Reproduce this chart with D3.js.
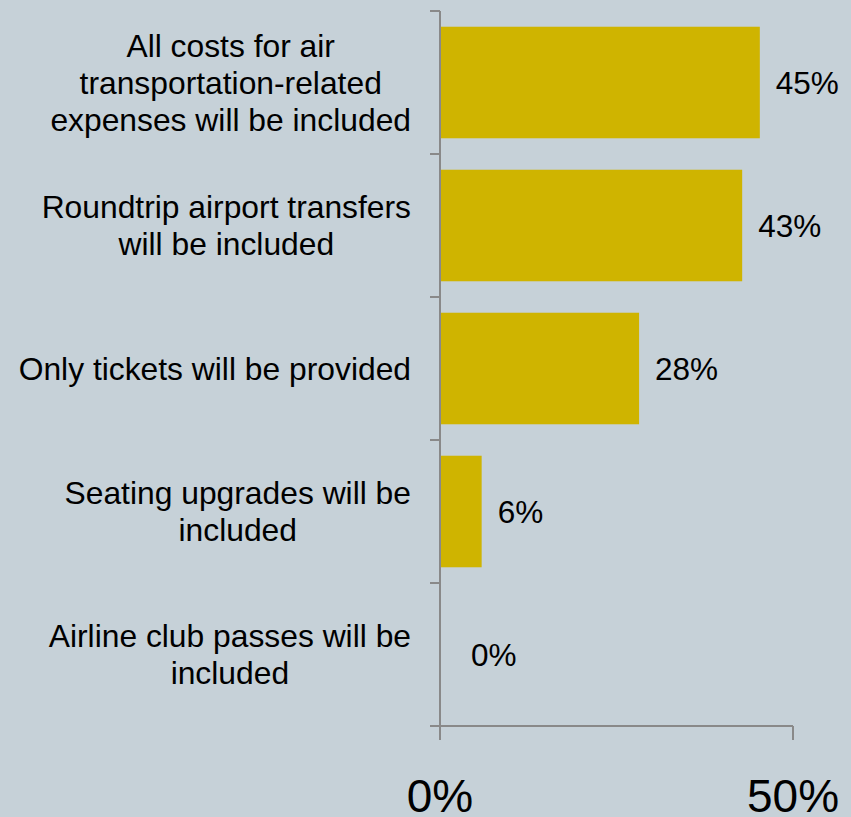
<!DOCTYPE html>
<html>
<head>
<meta charset="utf-8">
<script src="https://cdn.jsdelivr.net/npm/d3@7"></script>
<style>
  html, body { margin: 0; padding: 0; background: #c6d1d8; }
  svg { display: block; font-family: Arial, "Liberation Sans", sans-serif; }
  .axis path, .axis line { stroke: #898989; stroke-width: 2; }
</style>
</head>
<body>
<svg id="chart"></svg>
<script>
// answers, top to bottom
const categories = [
  ['All costs for air', 'transportation-related', 'expenses will be included'],
  ['Roundtrip airport transfers', 'will be included'],
  ['Only tickets will be provided'],
  ['Seating upgrades will be', 'included'],
  ['Airline club passes will be', 'included'],
];
const shares = [0.453, 0.428, 0.282, 0.059, 0];
const xTicks = [0, 0.5];

const width = 851;
const height = 817;
const margin = { top: 11, right: 58, bottom: 91, left: 440 };

const svg = d3.select('#chart')
  .attr('width', width)
  .attr('height', height);

const x = d3.scaleLinear()
  .domain([0, 0.5])
  .range([margin.left, width - margin.right]);

const y = d3.scaleBand()
  .domain(d3.range(categories.length))
  .range([margin.top, height - margin.bottom])
  .paddingInner(0.22)
  .paddingOuter(0.11);

// boundaries between the categories, for the y ticks
const yEdge = d3.scaleLinear()
  .domain([0, categories.length])
  .range([margin.top, height - margin.bottom]);

svg.append('g')
  .selectAll('rect')
  .data(shares)
  .join('rect')
  .attr('x', x(0))
  .attr('y', (d, i) => y(i))
  .attr('width', d => x(d) - x(0))
  .attr('height', y.bandwidth())
  .attr('fill', '#cfb400');

const pct = d3.format('.0%');
svg.append('g')
  .selectAll('text')
  .data(shares)
  .join('text')
  .attr('x', d => Math.max(x(d) + 16, x(0) + 31))
  .attr('y', (d, i) => y(i) + y.bandwidth() / 2)
  .attr('dy', '0.35em')
  .attr('font-size', 31.5)
  .attr('fill', '#000')
  .text(d => pct(d));

// category labels: block right aligned, lines centred inside it
const labelRight = 411;
const lineH = 37;
const labels = svg.append('g');
categories.forEach((lines, i) => {
  const g = labels.append('g');
  const texts = lines.map((line, j) => g.append('text')
    .attr('font-size', 31.8)
    .attr('fill', '#000')
    .attr('text-anchor', 'middle')
    .attr('dy', '0.35em')
    .attr('y', y(i) + y.bandwidth() / 2 + (j - (lines.length - 1) / 2) * lineH)
    .text(line));
  const w = d3.max(texts, t => t.node().getComputedTextLength());
  texts.forEach(t => t.attr('x', labelRight - w / 2));
});

svg.append('g')
  .attr('class', 'axis')
  .attr('transform', `translate(${margin.left},0)`)
  .call(d3.axisLeft(yEdge).ticks(categories.length).tickFormat('').tickSize(10).tickSizeOuter(0).offset(0));

const xAxis = svg.append('g')
  .attr('class', 'axis')
  .attr('transform', `translate(0,${height - margin.bottom})`)
  .call(d3.axisBottom(x).tickValues(xTicks).tickFormat(pct).tickSize(14).tickSizeOuter(0).offset(0));

xAxis.selectAll('text')
  .attr('y', 86)
  .attr('dy', 0)
  .attr('font-size', 46)
  .attr('font-family', 'Arial, "Liberation Sans", sans-serif')
  .attr('fill', '#000');
</script>
</body>
</html>
